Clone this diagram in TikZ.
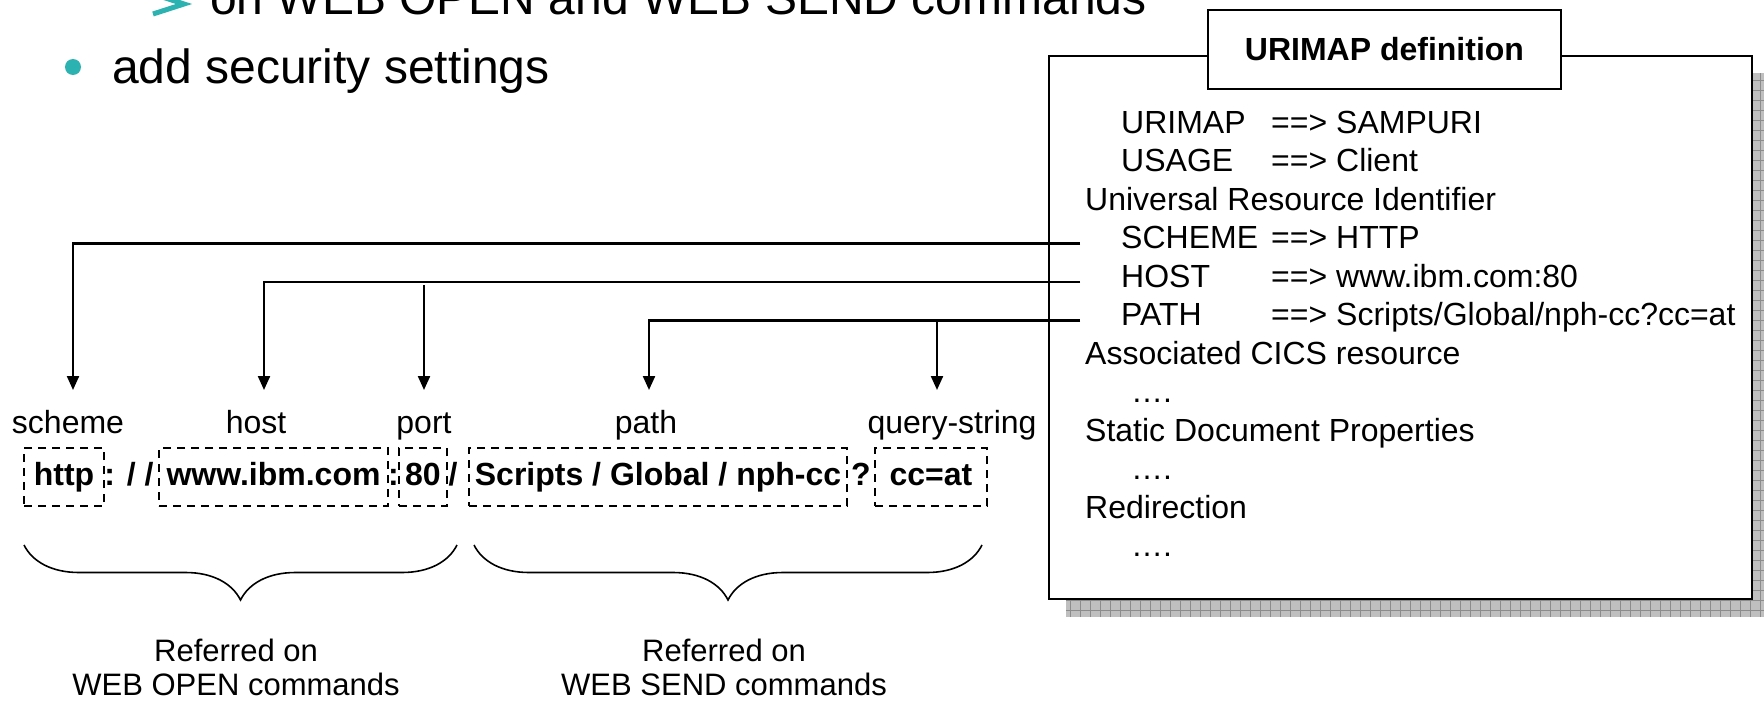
\documentclass[tikz,border=0pt]{standalone}
\usepackage{fontspec}
\setmainfont{Liberation Sans}
\usetikzlibrary{arrows.meta,calc,decorations.pathreplacing}
\definecolor{ibmteal}{RGB}{44,178,176}
\newcommand{\urikey}[2]{\makebox[150pt][l]{#1}==> #2}

\begin{document}
\begin{tikzpicture}[x=1pt, y=-1pt,
  every node/.style={inner sep=0pt},
  body/.style={anchor=base west, font=\fontsize{32}{38}\selectfont},
  partname/.style={anchor=base, font=\fontsize{32}{38}\selectfont, text height=23pt, outer ysep=20pt},
  urlpart/.style={draw, dash pattern=on 8pt off 6pt, line width=2.2pt, minimum height=58pt,
    text height=23pt, text depth=7pt, font=\fontsize{32}{38}\selectfont\bfseries},
  urlsep/.style={anchor=base, font=\fontsize{32}{38}\selectfont\bfseries},
  feed/.style={line width=2.2pt, -{Triangle[width=12pt,length=14pt]}},
  curly/.style={decorate, decoration={brace, mirror, amplitude=55pt}, line width=1.6pt},
  refnote/.style={align=center, font=\fontsize{31}{34}\selectfont}]
  \useasboundingbox (0,0) rectangle (1764,701);
  \clip (0,0) rectangle (1764,701);
  % slide text
  \draw[ibmteal, line width=5pt] (153,14) -- (184,4) -- (153,-6);
  \node[anchor=base west, font=\fontsize{48}{56}\selectfont] (subtext) at (210,15) {on WEB OPEN and WEB SEND commands};
  \fill[ibmteal] (73,67) circle (8pt);
  \node[anchor=base west, font=\fontsize{48}{56}\selectfont] (sectext) at (112,83) {add security settings};
  % URIMAP definition panel
  \fill[black!25] (1066,73) rectangle (1770,617);
  \draw[black!45, line width=0.8pt, step=10pt] (1066,73) grid (1770,617);
  \draw[line width=2.7pt, fill=white] (1049,56) rectangle (1752,599);
  \node[draw, line width=2.7pt, fill=white, minimum width=353pt, minimum height=79pt,
    font=\fontsize{32}{38}\selectfont\bfseries] (title) at (1384.5,49.5) {URIMAP definition};
  \node[body] (rowmap) at (1121,133) {\urikey{URIMAP}{SAMPURI}};
  \node[body] (rowusage) at (1121,171.5) {\urikey{USAGE}{Client}};
  \node[body] (rowuri) at (1085,210) {Universal Resource Identifier};
  \node[body] (rowscheme) at (1121,248.5) {\urikey{SCHEME}{HTTP}};
  \node[body] (rowhost) at (1121,287) {\urikey{HOST}{www.ibm.com:80}};
  \node[body] (rowpath) at (1121,325.5) {\urikey{PATH}{Scripts/Global/nph-cc?cc=at}};
  \node[body] (rowcics) at (1085,364) {Associated CICS resource};
  \node[body] (dotsa) at (1131,402.5) {….};
  \node[body] (rowstatic) at (1085,441) {Static Document Properties};
  \node[body] (dotsb) at (1131,479.5) {….};
  \node[body] (rowredir) at (1085,518) {Redirection};
  \node[body] (dotsc) at (1131,556.5) {….};
  % URL parts
  \node[partname] (lblscheme) at (68,433) {scheme};
  \node[partname] (lblhost) at (256,433) {host};
  \node[partname] (lblport) at (424,433) {port};
  \node[partname] (lblpath) at (646,433) {path};
  \node[partname] (lblquery) at (952,433) {query-string};
  \node[urlpart, minimum width=80pt] (urlscheme) at (64,477) {http};
  \node[urlsep] (sepa) at (129,485) {: / /};
  \node[urlpart, minimum width=229pt] (urlhost) at (273.5,477) {www.ibm.com};
  \node[urlsep] (sepb) at (393.5,485) {:};
  \node[urlpart, minimum width=48pt] (urlport) at (423,477) {80};
  \node[urlsep] (sepc) at (453,485) {/};
  \node[urlpart, minimum width=378pt] (urlpath) at (658,477) {Scripts / Global / nph-cc};
  \node[urlsep] (sepd) at (861,485) {?};
  \node[urlpart, minimum width=112pt] (urlquery) at (931,477) {cc=at};
  % feeds from the definition
  \coordinate (schemeend) at ([xshift=-41pt,yshift=5pt]rowscheme.base west);
  \coordinate (hostend) at ([xshift=-41pt,yshift=5pt]rowhost.base west);
  \coordinate (pathend) at ([xshift=-41pt,yshift=5pt]rowpath.base west);
  \draw[feed] (schemeend) -| ($(lblscheme.north)+(5,0)$);
  \draw[feed] (hostend) -| ($(lblhost.north)+(8,0)$);
  \draw[feed] ($(lblport.north |- hostend)+(0,3)$) -- (lblport.north);
  \draw[feed] (pathend) -| ($(lblpath.north)+(3,0)$);
  \draw[feed] ($(lblquery.north |- pathend)+(-15,0)$) -- ($(lblquery.north)+(-15,0)$);
  % braces
  \draw[curly] (24,545) -- (457,545);
  \draw[curly] (474,545) -- (982,545);
  \node[refnote] (openref) at (236,667) {Referred on\\WEB OPEN commands};
  \node[refnote] (sendref) at (724,667) {Referred on\\WEB SEND commands};
\end{tikzpicture}
\end{document}
